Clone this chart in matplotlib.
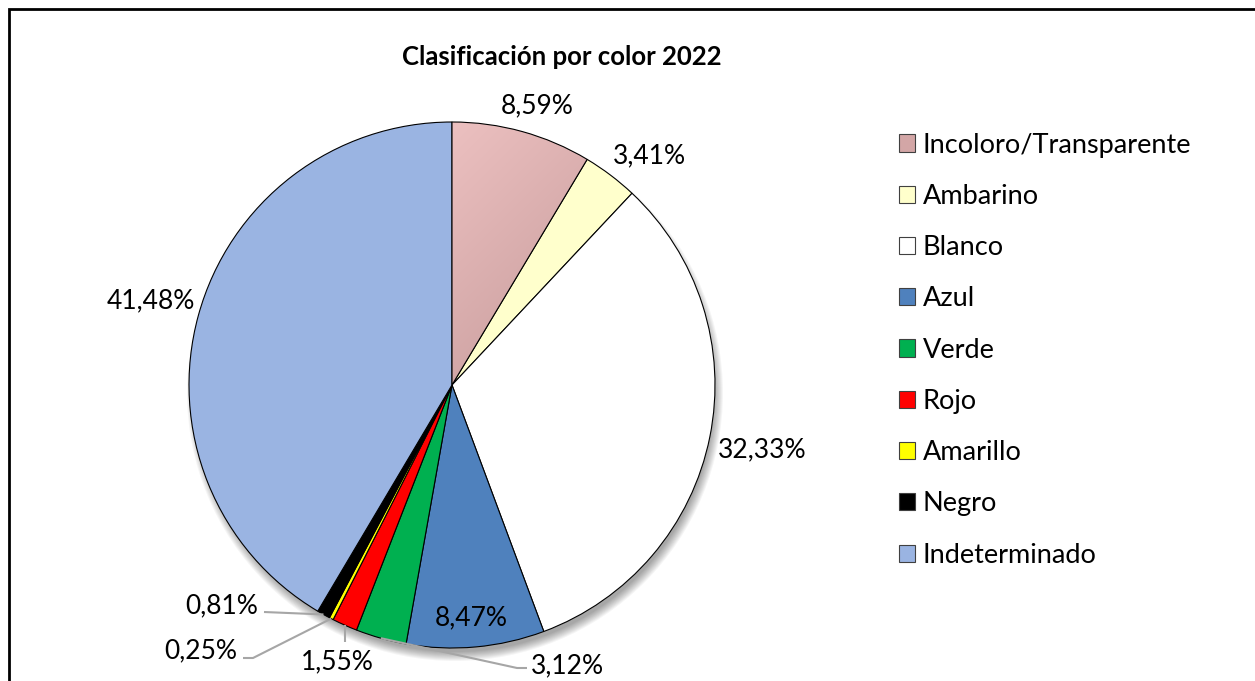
import matplotlib.pyplot as plt
import numpy as np
from matplotlib.colors import LinearSegmentedColormap
from matplotlib.patches import Circle, Rectangle

categories = [
    "Incoloro/Transparente",
    "Ambarino",
    "Blanco",
    "Azul",
    "Verde",
    "Rojo",
    "Amarillo",
    "Negro",
    "Indeterminado",
]
values = [8.59, 3.41, 32.33, 8.47, 3.12, 1.55, 0.25, 0.81, 41.48]
colors = [
    "#D6A9A9",
    "#FFFFCC",
    "#FFFFFF",
    "#4F81BD",
    "#00B050",
    "#FF0000",
    "#FFFF00",
    "#000000",
    "#9AB4E2",
]

W, H = 1255, 681
CX, CY, R = 452, 385, 263
plt.rcParams["font.family"] = ["Lato", "DejaVu Sans"]

fig = plt.figure(figsize=(W / 100, H / 100), dpi=100)
ax = fig.add_axes([0, 0, 1, 1])


def Y(y):
    return H - y


# soft shadow below/right of the pie
for k in range(10):
    ax.add_patch(Circle((CX + 3, Y(CY + 8)), R + 5 - k, color="black",
                        alpha=0.04, lw=0, zorder=0))

wedges, _ = ax.pie(
    values,
    colors=colors,
    center=(CX, Y(CY)),
    radius=R,
    startangle=90,
    counterclock=False,
    wedgeprops=dict(edgecolor="black", linewidth=0.8),
)

# gradient fill for the first slice
grad = np.linspace(0, 1, 200)
gx, gy = np.meshgrid(grad, grad)
cmap = LinearSegmentedColormap.from_list("pinkgrad", ["#ECC0C0", "#B98E8E"])
img = ax.imshow((gx + gy) / 2, cmap=cmap, extent=(CX, CX + R, Y(CY), Y(CY - R)),
                origin="upper", zorder=wedges[0].get_zorder(), interpolation="bilinear")
img.set_clip_path(wedges[0])
wedges[0].set_zorder(wedges[0].get_zorder() + 0.5)
wedges[0].set_facecolor("none")

labels = [f"{v:.2f}%".replace(".", ",") for v in values]

# label positions in pixels (x, y, ha)
label_pos = [
    (537, 106, "center"),
    (649, 156, "center"),
    (762, 450, "center"),
    (471, 618, "center"),
    (531, 666, "left"),
    (337, 662, "center"),
    (237, 651, "right"),
    (258, 606, "right"),
    (151, 301, "center"),
]
for lab, (x, y, ha) in zip(labels, label_pos):
    ax.text(x, Y(y), lab, ha=ha, va="center", fontsize=19, color="black", zorder=5)

# leader lines for small slices
cum = np.cumsum([0] + values[:-1])
mids = 90 - (cum + np.array(values) / 2) * 3.6
anchors = [(CX + R * np.cos(np.radians(a)), CY - R * np.sin(np.radians(a))) for a in mids]
leaders = {
    4: [(517, 668), (527, 668)],
    5: [(anchors[5][0], 642)],
    6: [(253, 658), (243, 658)],
    7: [(264, 612)],
}
for i, pts in leaders.items():
    xs = [anchors[i][0]] + [p[0] for p in pts]
    ys = [anchors[i][1]] + [p[1] for p in pts]
    ax.plot(xs, [Y(v) for v in ys], color="#A6A6A6", lw=1.5, zorder=1.5,
            solid_capstyle="butt")

ax.text(562, Y(57), "Clasificación por color 2022", ha="center", va="center",
        fontsize=18.5, fontweight="bold")

leg = ax.legend(
    wedges,
    categories,
    loc="upper left",
    bbox_to_anchor=(885 / W, 1 - 119 / H),
    bbox_transform=fig.transFigure,
    frameon=False,
    fontsize=19.5,
    handlelength=0.6,
    handleheight=0.6,
    handletextpad=0.3,
    labelspacing=0.97,
    borderpad=0,
)
leg.legend_handles[0].set_facecolor("#D3A6A6")
for h in leg.legend_handles:
    h.set_linewidth(0.8)
    h.set_edgecolor("#404040")

ax.add_patch(Rectangle((9, Y(H + 20)), W + 20, H + 20 - 9, fill=False,
                       edgecolor="black", lw=2, zorder=6))

ax.set_xlim(0, W)
ax.set_ylim(0, H)
ax.set_aspect("equal")
ax.axis("off")

fig.savefig("out.png", dpi=100)
